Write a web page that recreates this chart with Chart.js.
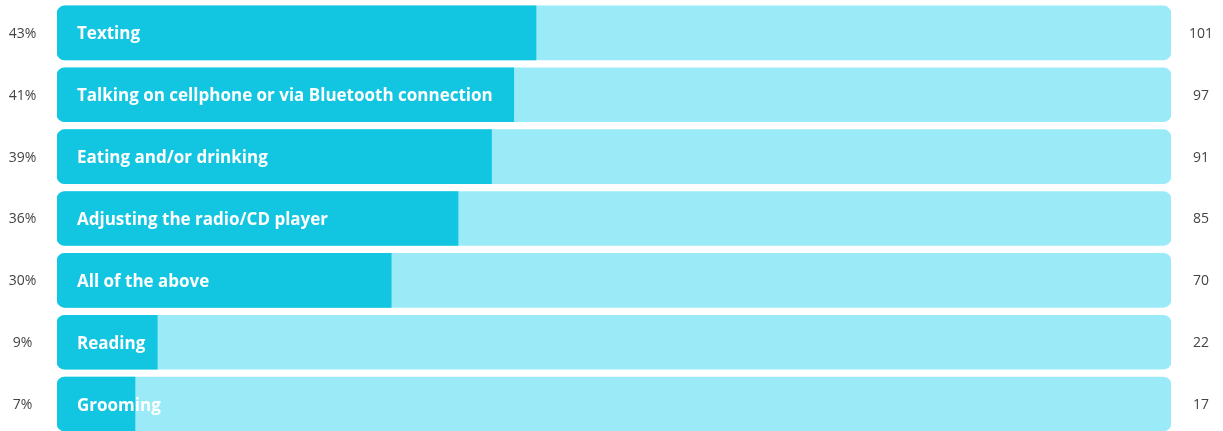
<!DOCTYPE html>
<html><head><meta charset="utf-8">
<script src="https://cdn.jsdelivr.net/npm/chart.js@4"></script>
<style>
html,body{margin:0;padding:0;background:#fff;overflow:hidden}
#wrap{width:1223px;height:435px;position:relative}
</style>
</head><body>
<div id="wrap"><canvas id="c"></canvas></div>
<script>
const categories = [
  "Texting",
  "Talking on cellphone or via Bluetooth connection",
  "Eating and/or drinking",
  "Adjusting the radio/CD player",
  "All of the above",
  "Reading",
  "Grooming"
];
const percents = [43, 41, 39, 36, 30, 9, 7];
const counts = [101, 97, 91, 85, 70, 22, 17];
const track = [100, 100, 100, 100, 100, 100, 100];

const labelPlugin = {
  id: 'labels',
  afterDatasetsDraw(chart) {
    const ctx = chart.ctx;
    const y = chart.scales.y;
    const x = chart.scales.x;
    const area = chart.chartArea;
    ctx.save();
    ctx.textBaseline = 'middle';
    categories.forEach((cat, i) => {
      const py = y.getPixelForValue(i);
      ctx.fillStyle = '#ffffff';
      ctx.font = 'bold 17px "Open Sans"';
      ctx.textAlign = 'left';
      ctx.fillText(cat, x.getPixelForValue(0) + 20, py + 1.6);
      ctx.fillStyle = '#444444';
      ctx.font = '14px "Open Sans"';
      ctx.textAlign = 'center';
      ctx.fillText(percents[i] + '%', area.left / 2 - 6, py + 1);
      ctx.fillText(String(counts[i]), (area.right + chart.width) / 2 + 4, py + 1);
    });
    ctx.restore();
  }
};

new Chart(document.getElementById('c'), {
  type: 'bar',
  data: {
    labels: categories,
    datasets: [
      {
        data: percents,
        backgroundColor: '#12C5E0',
        borderWidth: 0,
        borderSkipped: false,
        borderRadius: {topLeft: 8, bottomLeft: 8, topRight: 0, bottomRight: 0},
        barThickness: 54,
        grouped: false
      },
      {
        data: track,
        backgroundColor: '#9AEBF7',
        borderWidth: 0,
        borderSkipped: false,
        borderRadius: 8,
        barThickness: 54,
        grouped: false
      }
    ]
  },
  options: {
    indexAxis: 'y',
    responsive: true,
    maintainAspectRatio: false,
    animation: false,
    layout: {padding: {left: 57, right: 52, top: 2, bottom: 0}},
    plugins: {legend: {display: false}, tooltip: {enabled: false}},
    scales: {
      x: {display: false, min: 0, max: 100},
      y: {display: false}
    }
  },
  plugins: [labelPlugin]
});
</script>
</body></html>
